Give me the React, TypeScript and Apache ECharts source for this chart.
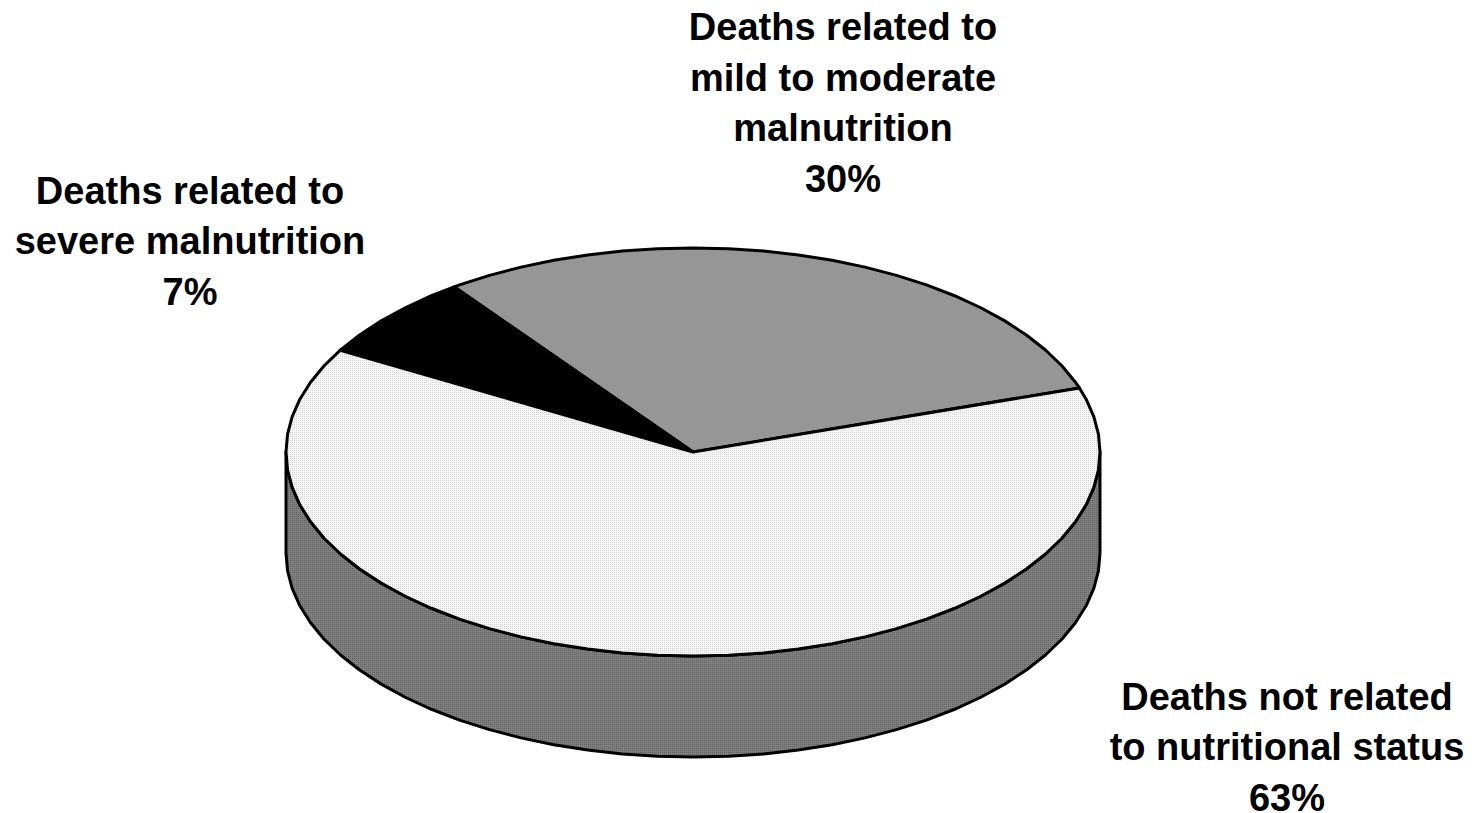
import React, { useEffect, useRef } from "react";
import * as echarts from "echarts";

const sliceLines = [
  ["Deaths related to", "mild to moderate", "malnutrition", "30%"],
  ["Deaths related to", "severe malnutrition", "7%"],
  ["Deaths not related", "to nutritional status", "63%"],
];
const sliceValues = [29.9, 6.7, 63.4];
const sliceColors = ["#969696", "#000000", "#efefef"];
const labelCenters = [
  [843, 103],
  [190, 241],
  [1287, 747],
];
const startAngle = 18.3;

const CX = 693;
const CY = 452;
const RX = 407;
const RY = 204;
const DEPTH = 101;
const LINE = 50.5;
const STEP = 5;

function arcPoints(a0: number, a1: number, dy = 0) {
  const lo = Math.min(a0, a1);
  const hi = Math.max(a0, a1);
  const angles = [lo];
  for (let a = Math.floor(lo / STEP + 1) * STEP; a < hi; a += STEP) angles.push(a);
  angles.push(hi);
  if (a0 > a1) angles.reverse();
  return angles.map((d) => {
    const a = (d * Math.PI) / 180;
    return [CX + RX * Math.cos(a), CY - RY * Math.sin(a) + dy];
  });
}

function dither(base: string, mark: string) {
  const c = document.createElement("canvas");
  c.width = 4;
  c.height = 4;
  const g = c.getContext("2d")!;
  g.fillStyle = base;
  g.fillRect(0, 0, 4, 4);
  g.fillStyle = mark;
  g.fillRect(0, 0, 1, 4);
  g.fillRect(2, 0, 1, 4);
  g.fillStyle = base;
  g.fillRect(0, 1, 4, 1);
  g.fillRect(0, 3, 4, 1);
  return { image: c, repeat: "repeat" };
}

export default function App() {
  const ref = useRef<HTMLDivElement>(null);
  useEffect(() => {
    const chart = echarts.init(ref.current!, undefined, { renderer: "svg" });
    const total = sliceValues.reduce((s, v) => s + v, 0);
    let acc = 0;
    const rows = sliceValues.map((v) => {
      const a0 = startAngle + (acc / total) * 360;
      acc += v;
      return [a0, startAngle + (acc / total) * 360];
    });
    const lightFill = dither("#f6f6f6", "#d4d4d4");
    const sideFill = dither("#808080", "#606060");
    const texts: any[] = [];
    labelCenters.forEach((c, i) => {
      const lines = sliceLines[i];
      lines.forEach((t, j) => {
        texts.push({
          type: "text",
          x: c[0],
          y: c[1] + (j - (lines.length - 1) / 2) * LINE,
          style: {
            text: t,
            font: 'bold 38px "Liberation Sans", Arial, sans-serif',
            fill: "#000000",
            align: "center",
            verticalAlign: "middle",
            lineHeight: 30,
          },
        });
      });
    });
    chart.setOption({
      animation: false,
      backgroundColor: "#ffffff",
      graphic: texts,
      series: [
        {
          type: "custom",
          coordinateSystem: "none",
          silent: true,
          data: rows,
          renderItem: (params: any, api: any) => {
            const a0 = api.value(0);
            const a1 = api.value(1);
            const line = { stroke: "#000000", lineWidth: 3, lineJoin: "round" };
            const children: any[] = [];
            if (params.dataIndex === 0) {
              const front = arcPoints(180, 360, 0);
              const back = arcPoints(360, 180, DEPTH);
              children.push({
                type: "polygon",
                shape: { points: [...front, ...back] },
                style: { fill: sideFill, ...line },
              });
            }
            const fill = params.dataIndex === 2 ? lightFill : sliceColors[params.dataIndex];
            children.push({
              type: "polygon",
              shape: { points: [[CX, CY], ...arcPoints(a0, a1)] },
              style: { fill, ...line },
            });
            return { type: "group", children };
          },
        },
      ],
    });
    return () => chart.dispose();
  }, []);
  return (
    <div
      ref={ref}
      style={{ position: "fixed", left: 0, top: 0, width: 1475, height: 813 }}
    />
  );
}
